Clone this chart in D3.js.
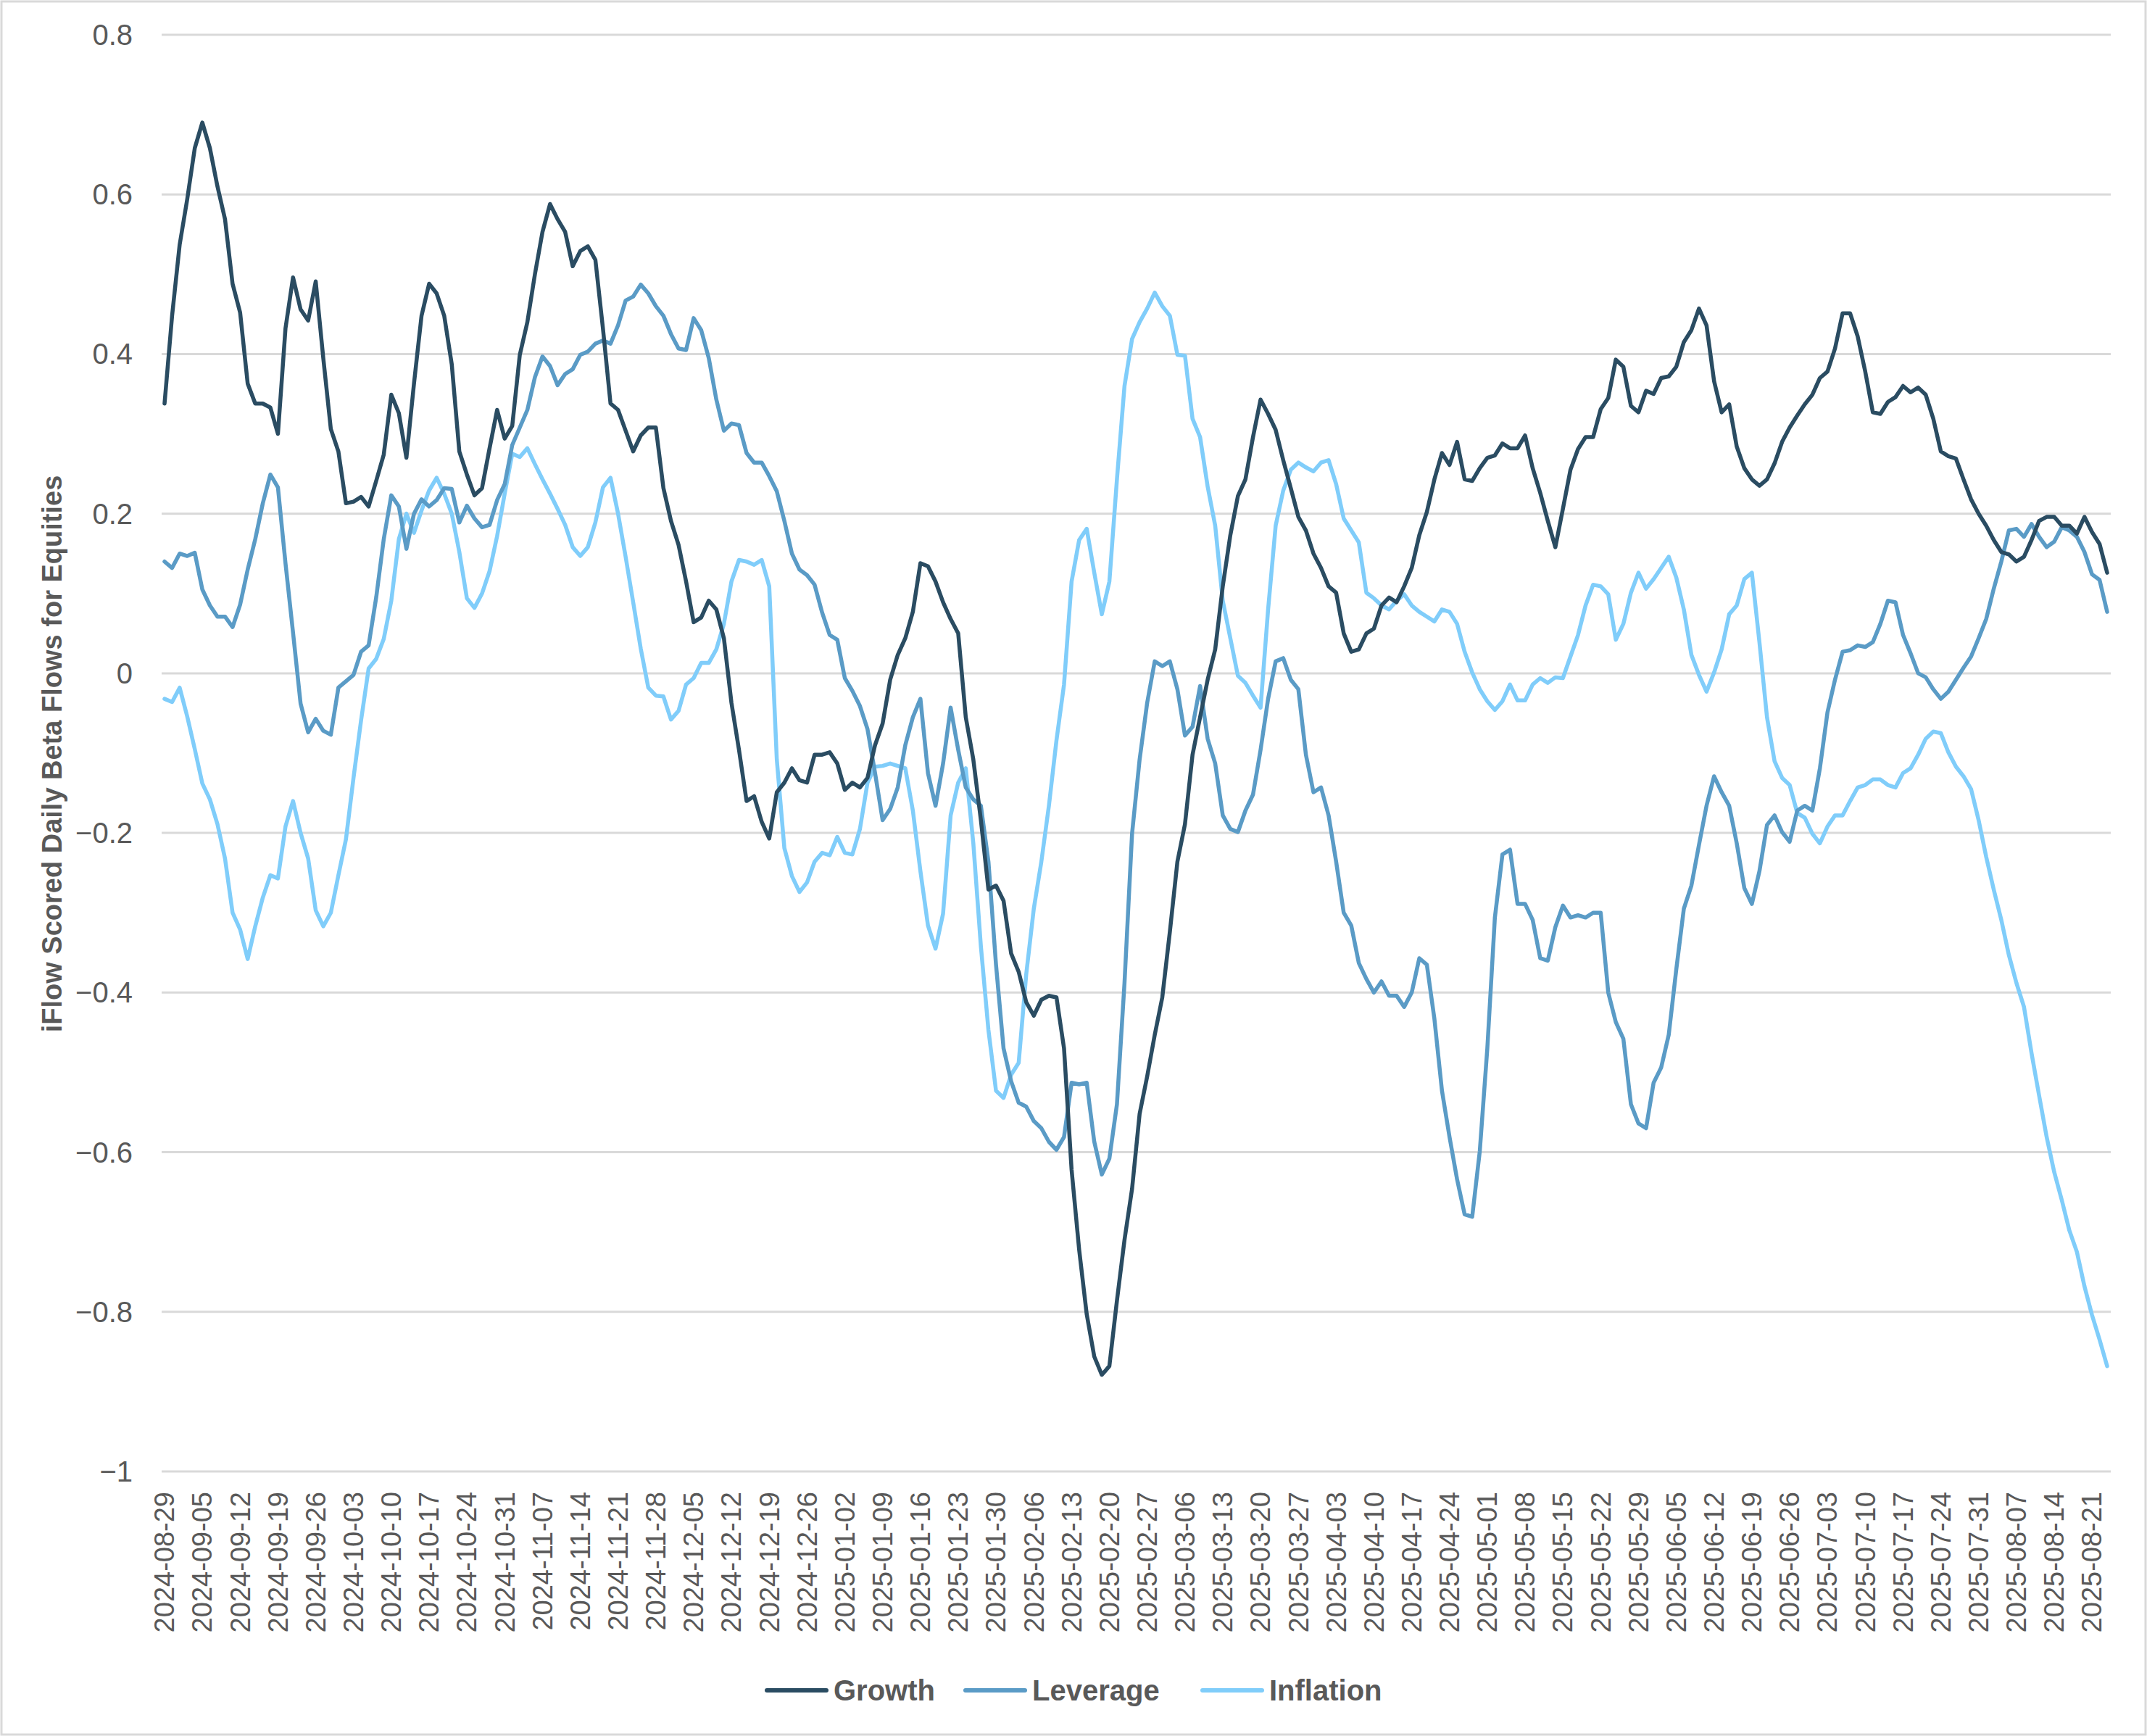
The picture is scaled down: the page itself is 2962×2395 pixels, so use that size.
<!DOCTYPE html>
<html><head><meta charset="utf-8">
<script src="https://cdn.jsdelivr.net/npm/d3@7"></script>
<style>body{margin:0;background:#fff}svg{display:block}text{font-family:"Liberation Sans",Arial,sans-serif;fill:#595959}</style>
</head><body><svg id="c" width="2962" height="2395"></svg>
<script>
const growth=[0.338,0.448,0.537,0.594,0.658,0.69,0.658,0.61,0.569,0.488,0.452,0.363,0.338,0.338,0.333,0.30,0.432,0.496,0.456,0.442,0.491,0.395,0.306,0.278,0.213,0.215,0.221,0.209,0.241,0.274,0.349,0.326,0.27,
0.363,0.448,0.488,0.476,0.448,0.387,0.278,0.249,0.223,0.232,0.282,0.33,0.294,0.31,0.399,0.44,0.50,0.553,0.588,0.569,0.553,0.51,0.529,0.535,0.518,0.432,0.338,0.33,0.304,0.278,0.298,0.308,
0.308,0.232,0.191,0.161,0.115,0.064,0.07,0.091,0.08,0.044,-0.037,-0.096,-0.16,-0.154,-0.186,-0.207,-0.149,-0.137,-0.119,-0.134,-0.137,-0.102,-0.102,-0.099,-0.113,-0.146,-0.137,-0.143,-0.131,-0.09,-0.063,-0.008,
0.023,0.044,0.077,0.138,0.134,0.115,0.089,0.068,0.05,-0.055,-0.108,-0.184,-0.271,-0.266,-0.285,-0.351,-0.374,-0.412,-0.429,-0.409,-0.404,-0.406,-0.47,-0.622,-0.722,-0.803,-0.856,-0.879,-0.868,-0.786,-0.71,-0.646,
-0.552,-0.505,-0.453,-0.406,-0.324,-0.236,-0.189,-0.102,-0.055,-0.008,0.03,0.109,0.173,0.222,0.243,0.296,0.343,0.325,0.305,0.267,0.232,0.196,0.179,0.15,0.132,0.109,0.101,0.05,0.027,0.03,0.05,0.056,
0.085,0.095,0.089,0.109,0.132,0.173,0.202,0.243,0.276,0.261,0.29,0.243,0.241,0.257,0.27,0.273,0.288,0.282,0.282,0.298,0.257,0.226,0.191,0.158,0.206,0.255,0.281,0.296,0.296,0.331,0.345,0.393,
0.384,0.335,0.327,0.354,0.35,0.37,0.372,0.384,0.415,0.43,0.457,0.436,0.366,0.327,0.337,0.284,0.257,0.243,0.235,0.243,0.263,0.29,0.308,0.323,0.337,0.349,0.37,0.378,0.407,0.451,0.451,0.422,
0.378,0.327,0.325,0.34,0.346,0.36,0.352,0.358,0.349,0.319,0.278,0.272,0.269,0.243,0.218,0.20,0.185,0.167,0.152,0.149,0.14,0.146,0.167,0.191,0.196,0.196,0.185,0.185,0.175,0.196,0.177,0.162,0.126];
const leverage=[0.14,0.132,0.15,0.147,0.151,0.105,0.085,0.071,0.071,0.058,0.086,0.13,0.168,0.213,0.249,0.233,0.138,0.051,-0.038,-0.074,-0.057,-0.072,-0.077,-0.018,-0.01,-0.002,0.027,0.035,0.095,0.168,0.223,0.209,0.156,
0.20,0.218,0.209,0.217,0.232,0.231,0.189,0.21,0.194,0.183,0.186,0.217,0.237,0.286,0.308,0.33,0.371,0.397,0.385,0.361,0.375,0.381,0.399,0.403,0.413,0.417,0.413,0.436,0.467,0.472,0.487,0.476,
0.46,0.448,0.425,0.407,0.405,0.445,0.43,0.395,0.343,0.304,0.313,0.311,0.276,0.264,0.264,0.247,0.228,0.191,0.15,0.13,0.123,0.111,0.076,0.048,0.042,-0.006,-0.022,-0.041,-0.07,-0.125,-0.184,-0.17,
-0.143,-0.09,-0.055,-0.032,-0.125,-0.166,-0.113,-0.043,-0.096,-0.143,-0.158,-0.166,-0.236,-0.365,-0.47,-0.511,-0.538,-0.543,-0.561,-0.57,-0.587,-0.597,-0.581,-0.513,-0.515,-0.513,-0.587,-0.628,-0.608,-0.54,-0.388,-0.201,
-0.108,-0.037,0.015,0.009,0.015,-0.02,-0.078,-0.067,-0.016,-0.082,-0.113,-0.178,-0.195,-0.199,-0.172,-0.152,-0.096,-0.032,0.015,0.019,-0.008,-0.02,-0.102,-0.149,-0.143,-0.178,-0.236,-0.30,-0.316,-0.363,-0.383,-0.40,
-0.386,-0.404,-0.404,-0.418,-0.40,-0.357,-0.365,-0.433,-0.523,-0.581,-0.634,-0.678,-0.681,-0.599,-0.47,-0.306,-0.227,-0.221,-0.289,-0.289,-0.309,-0.357,-0.36,-0.318,-0.291,-0.306,-0.303,-0.306,-0.30,-0.30,-0.40,-0.437,
-0.458,-0.54,-0.564,-0.57,-0.513,-0.494,-0.453,-0.371,-0.295,-0.266,-0.215,-0.166,-0.129,-0.149,-0.166,-0.213,-0.269,-0.289,-0.248,-0.19,-0.178,-0.199,-0.211,-0.172,-0.166,-0.172,-0.119,-0.049,-0.008,0.027,0.029,0.035,
0.033,0.039,0.062,0.091,0.089,0.048,0.025,0.0,-0.005,-0.02,-0.032,-0.023,-0.008,0.007,0.021,0.044,0.068,0.106,0.14,0.179,0.181,0.171,0.187,0.171,0.158,0.165,0.183,0.179,0.171,0.152,0.124,0.117,0.077];
const inflation=[-0.032,-0.036,-0.018,-0.054,-0.095,-0.138,-0.158,-0.189,-0.232,-0.30,-0.321,-0.358,-0.317,-0.281,-0.253,-0.257,-0.192,-0.16,-0.20,-0.232,-0.297,-0.317,-0.30,-0.253,-0.208,-0.131,-0.059,0.006,0.018,0.043,0.091,0.168,0.2,
0.176,0.204,0.229,0.245,0.225,0.20,0.152,0.094,0.082,0.10,0.128,0.172,0.225,0.275,0.271,0.282,0.262,0.243,0.225,0.206,0.186,0.158,0.147,0.158,0.189,0.233,0.245,0.20,0.146,0.089,0.031,-0.018,
-0.028,-0.029,-0.058,-0.047,-0.014,-0.006,0.013,0.013,0.03,0.062,0.115,0.142,0.14,0.136,0.142,0.109,-0.108,-0.219,-0.254,-0.274,-0.262,-0.236,-0.225,-0.228,-0.205,-0.225,-0.227,-0.195,-0.137,-0.117,-0.116,-0.113,
-0.116,-0.119,-0.172,-0.248,-0.316,-0.345,-0.301,-0.178,-0.137,-0.119,-0.213,-0.342,-0.447,-0.523,-0.532,-0.503,-0.488,-0.377,-0.295,-0.236,-0.166,-0.084,-0.014,0.115,0.167,0.181,0.126,0.074,0.115,0.243,0.36,0.419,
0.44,0.457,0.477,0.46,0.448,0.399,0.398,0.319,0.296,0.234,0.185,0.091,0.044,-0.003,-0.012,-0.028,-0.043,0.08,0.185,0.229,0.255,0.264,0.258,0.253,0.264,0.267,0.237,0.194,0.179,0.164,0.101,0.094,
0.085,0.08,0.091,0.099,0.085,0.077,0.071,0.065,0.08,0.077,0.062,0.027,0.001,-0.02,-0.035,-0.046,-0.035,-0.014,-0.034,-0.034,-0.014,-0.006,-0.012,-0.005,-0.006,0.021,0.048,0.085,0.111,0.109,0.099,0.042,
0.062,0.101,0.126,0.106,0.118,0.132,0.146,0.12,0.08,0.023,-0.002,-0.023,0.001,0.03,0.074,0.085,0.118,0.126,0.039,-0.055,-0.11,-0.131,-0.14,-0.175,-0.181,-0.201,-0.213,-0.192,-0.178,-0.178,-0.16,-0.143,
-0.14,-0.133,-0.133,-0.14,-0.143,-0.125,-0.119,-0.102,-0.082,-0.073,-0.075,-0.099,-0.117,-0.129,-0.145,-0.184,-0.23,-0.271,-0.309,-0.353,-0.388,-0.418,-0.476,-0.529,-0.581,-0.625,-0.66,-0.698,-0.725,-0.768,-0.804,-0.835,-0.868];
const yTicks=[0.8,0.6,0.4,0.2,0,-0.2,-0.4,-0.6,-0.8,-1];
const seriesNames=["Growth","Leverage","Inflation"];
const colors=["#2a4c62","#5a9bc6","#80cdfa"];
const startDate="2024-08-29";
const tickEvery=5;

// business-day categories
const fmt=d3.utcFormat("%Y-%m-%d");
const dates=[];let d=new Date(startDate+"T00:00:00Z");
while(dates.length<growth.length){const w=d.getUTCDay();if(w!==0&&w!==6)dates.push(fmt(d));d=new Date(d.getTime()+864e5);}

const svg=d3.select("#c");
svg.append("rect").attr("x",2).attr("y",2).attr("width",2958).attr("height",2391).attr("fill","#fff").attr("stroke","#d9d9d9").attr("stroke-width",3);
const x=d3.scalePoint().domain(dates).range([227,2907]);
const y=d3.scaleLinear().domain([-1,0.8]).range([2030,48]);
const L=223,R=2912;
svg.append("g").selectAll("line").data(yTicks).join("line").attr("x1",L).attr("x2",R).attr("y1",v=>y(v)).attr("y2",v=>y(v)).attr("stroke","#d9d9d9").attr("stroke-width",3);
svg.append("g").selectAll("text").data(yTicks).join("text").attr("x",183).attr("y",v=>y(v)).attr("dy","0.35em").attr("text-anchor","end").attr("font-size",40).text(v=>d3.format("")(v));
svg.append("g").selectAll("text").data(dates.filter((_,i)=>i%tickEvery===0)).join("text")
 .attr("transform",t=>`translate(${x(t)},2058) rotate(-90)`).attr("dy","0.35em").attr("text-anchor","end").attr("font-size",38).text(t=>t);
svg.append("text").attr("transform","translate(72,1040) rotate(-90)").attr("text-anchor","middle").attr("dy","0.35em").attr("font-size",38).attr("font-weight","bold").text("iFlow Scored Daily Beta Flows for Equities");
const all=[growth,leverage,inflation];
const line=d3.line().x((v,i)=>x(dates[i])).y(v=>y(v));
[2,1,0].forEach(s=>svg.append("path").attr("d",line(all[s])).attr("fill","none").attr("stroke",colors[s]).attr("stroke-width",5.5).attr("stroke-linejoin","round").attr("stroke-linecap","round"));
const lx=[1058,1332,1659];
seriesNames.forEach((n,i)=>{
 svg.append("line").attr("x1",lx[i]).attr("x2",lx[i]+82).attr("y1",2332).attr("y2",2332).attr("stroke",colors[i]).attr("stroke-width",6).attr("stroke-linecap","round");
 svg.append("text").attr("x",lx[i]+92).attr("y",2332).attr("dy","0.35em").attr("font-size",40).attr("font-weight","bold").text(n);
});
</script></body></html>
